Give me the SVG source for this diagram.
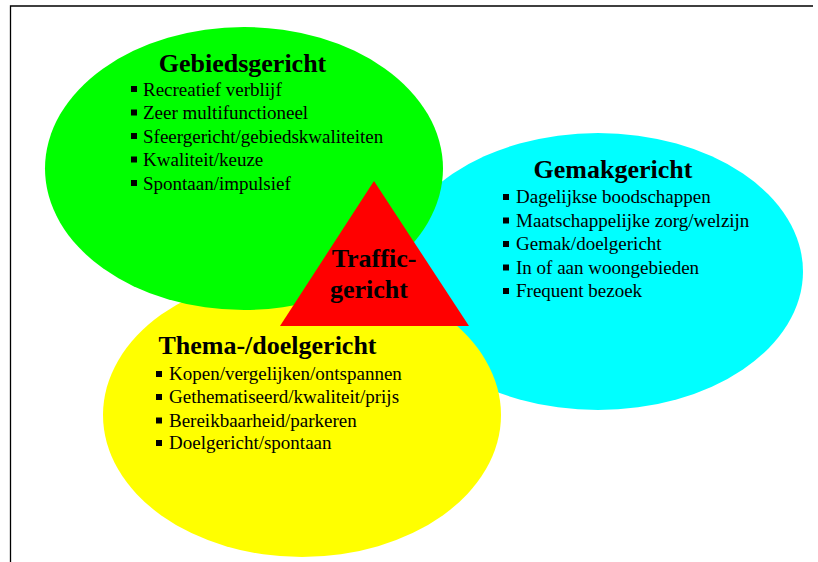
<svg xmlns="http://www.w3.org/2000/svg" width="818" height="562" viewBox="0 0 818 562">
<style>
.title{font-family:"Liberation Serif","Times New Roman",serif;font-weight:bold;font-size:26px;fill:#000;text-anchor:middle}
.item{font-family:"Liberation Serif","Times New Roman",serif;font-size:19px;fill:#000}
.bul{fill:#000}
.frame{stroke:#000;stroke-width:1.3;fill:none}
</style>
<rect width="818" height="562" fill="#fff"/>
<path class="frame" d="M10.5,562 V6 H813"/>
<g id="gemak">
<ellipse cx="598" cy="271.5" rx="205" ry="138.5" fill="#00FFFF"/>
<text class="title" x="613" y="178">Gemakgericht</text>
<rect class="bul" x="503" y="194" width="6" height="6"/>
<text class="item" x="516" y="203">Dagelijkse boodschappen</text>
<rect class="bul" x="503" y="217.5" width="6" height="6"/>
<text class="item" x="516" y="226.5">Maatschappelijke zorg/welzijn</text>
<rect class="bul" x="503" y="241" width="6" height="6"/>
<text class="item" x="516" y="250">Gemak/doelgericht</text>
<rect class="bul" x="503" y="264.5" width="6" height="6"/>
<text class="item" x="516" y="273.5">In of aan woongebieden</text>
<rect class="bul" x="503" y="288" width="6" height="6"/>
<text class="item" x="516" y="297">Frequent bezoek</text>
</g>
<g id="thema">
<ellipse cx="302" cy="415" rx="199" ry="142" fill="#FFFF00"/>
<text class="title" x="267.5" y="354">Thema-/doelgericht</text>
<rect class="bul" x="156" y="371" width="6" height="6"/>
<text class="item" x="169" y="380">Kopen/vergelijken/ontspannen</text>
<rect class="bul" x="156" y="394" width="6" height="6"/>
<text class="item" x="169" y="403">Gethematiseerd/kwaliteit/prijs</text>
<rect class="bul" x="156" y="417.5" width="6" height="6"/>
<text class="item" x="169" y="426.5">Bereikbaarheid/parkeren</text>
<rect class="bul" x="156" y="440" width="6" height="6"/>
<text class="item" x="169" y="449">Doelgericht/spontaan</text>
</g>
<g id="gebied">
<ellipse cx="244" cy="168.5" rx="199" ry="141.5" fill="#00FF00"/>
<text class="title" x="242.5" y="72">Gebiedsgericht</text>
<rect class="bul" x="131" y="86" width="6" height="6"/>
<text class="item" x="143" y="95.5">Recreatief verblijf</text>
<rect class="bul" x="131" y="109.5" width="6" height="6"/>
<text class="item" x="143" y="119">Zeer multifunctioneel</text>
<rect class="bul" x="131" y="133" width="6" height="6"/>
<text class="item" x="143" y="142.5">Sfeergericht/gebiedskwaliteiten</text>
<rect class="bul" x="131" y="156.5" width="6" height="6"/>
<text class="item" x="143" y="166">Kwaliteit/keuze</text>
<rect class="bul" x="131" y="180" width="6" height="6"/>
<text class="item" x="143" y="189.5">Spontaan/impulsief</text>
</g>
<g id="traffic">
<polygon points="374,181 469,326 280,326" fill="#FF0000"/>
<text class="title" x="374" y="267">Traffic-</text>
<text class="title" x="369" y="298">gericht</text>
</g>
<g id="connectors"></g>
</svg>
